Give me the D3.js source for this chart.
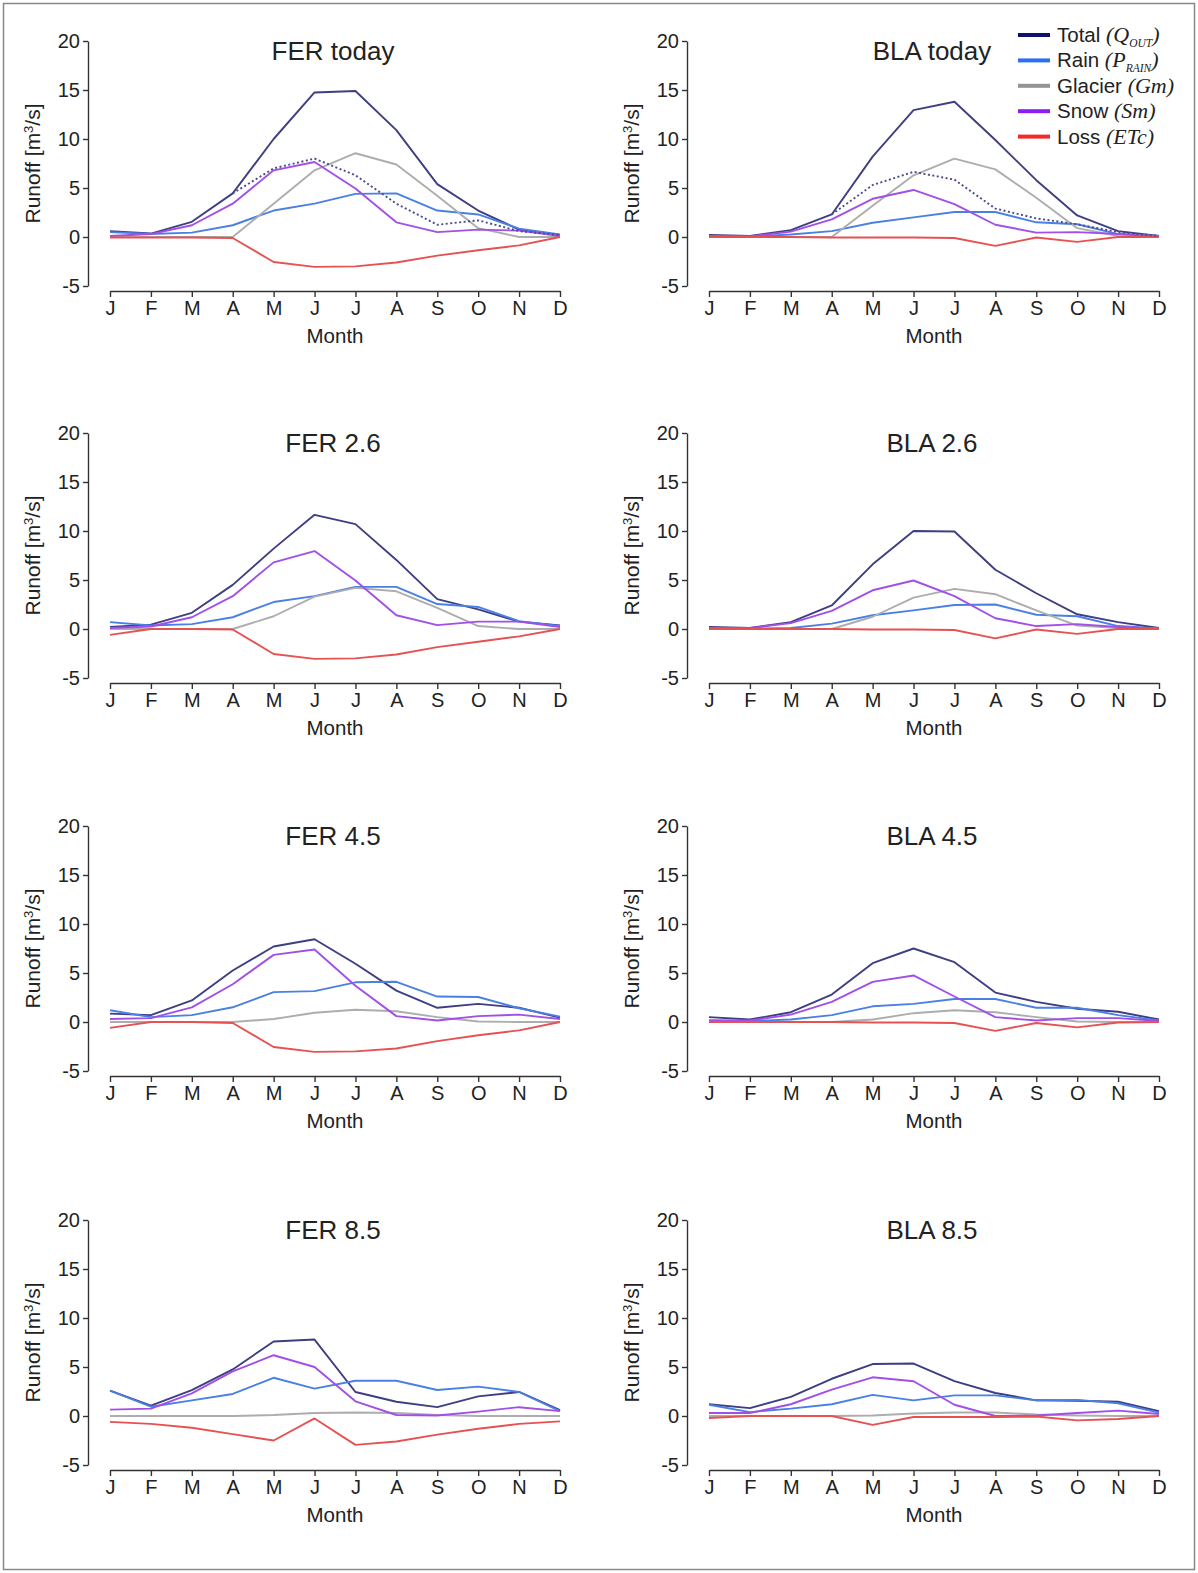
<!DOCTYPE html>
<html>
<head>
<meta charset="utf-8">
<script src="https://cdn.jsdelivr.net/npm/d3@7"></script>
<style>
  html, body { margin: 0; padding: 0; background: #fff; }
  svg { display: block; }
  text { font-family: "Liberation Sans", Arial, Helvetica, sans-serif; fill: #222; }
  .axis path, .axis line { stroke: #333; stroke-width: 1.4; }
  .axis text { font-size: 20px; fill: #222; }
</style>
</head>
<body>
<svg id="chart" width="1198" height="1573"></svg>
<script>
// Months on the x axis
const months = ["J", "F", "M", "A", "M", "J", "J", "A", "S", "O", "N", "D"];
const yTicks = [-5, 0, 5, 10, 15, 20];

// Panel titles, in reading order (left column FER, right column BLA)
const panelTitles = ["FER today", "BLA today", "FER 2.6", "BLA 2.6", "FER 4.5", "BLA 4.5", "FER 8.5", "BLA 8.5"];

// Monthly runoff components [m3/s], one row per panel
const total = [
  [0.6, 0.35, 1.55, 4.45, 10.0, 14.75, 14.9, 10.9, 5.4, 2.7, 0.75, 0.2],
  [0.2, 0.1, 0.7, 2.3, 8.2, 12.95, 13.8, 9.9, 5.8, 2.2, 0.6, 0.1],
  [0.2, 0.45, 1.65, 4.5, 8.2, 11.65, 10.7, 7.05, 3.05, 2.0, 0.75, 0.35],
  [0.2, 0.1, 0.7, 2.4, 6.6, 10.0, 9.95, 6.05, 3.65, 1.5, 0.7, 0.1],
  [0.85, 0.7, 2.2, 5.25, 7.7, 8.45, 5.95, 3.2, 1.45, 1.85, 1.45, 0.45],
  [0.5, 0.25, 1.0, 2.8, 6.0, 7.5, 6.1, 3.0, 2.05, 1.35, 1.05, 0.25],
  [2.6, 1.05, 2.65, 4.75, 7.6, 7.8, 2.45, 1.45, 0.9, 2.0, 2.45, 0.6],
  [1.2, 0.8, 1.95, 3.8, 5.3, 5.35, 3.55, 2.35, 1.6, 1.55, 1.45, 0.5]
];
const rain = [
  [0.5, 0.3, 0.45, 1.2, 2.7, 3.4, 4.4, 4.45, 2.7, 2.3, 0.85, 0.25],
  [0.1, 0.05, 0.25, 0.6, 1.45, 2.0, 2.55, 2.55, 1.5, 1.3, 0.3, 0.1],
  [0.7, 0.35, 0.5, 1.2, 2.75, 3.35, 4.3, 4.3, 2.55, 2.25, 0.8, 0.3],
  [0.1, 0.05, 0.1, 0.55, 1.4, 1.9, 2.45, 2.5, 1.45, 1.3, 0.3, 0.05],
  [1.2, 0.5, 0.7, 1.5, 3.05, 3.15, 4.05, 4.1, 2.6, 2.55, 1.4, 0.55],
  [0.15, 0.1, 0.25, 0.7, 1.6, 1.85, 2.35, 2.35, 1.45, 1.45, 0.7, 0.15],
  [2.6, 0.95, 1.6, 2.25, 3.9, 2.8, 3.6, 3.6, 2.65, 3.0, 2.45, 0.5],
  [1.15, 0.4, 0.75, 1.2, 2.15, 1.6, 2.1, 2.1, 1.6, 1.65, 1.3, 0.35]
];
const glacier = [
  [0, 0, 0, 0, 3.4, 6.8, 8.55, 7.4, 4.2, 0.9, 0, 0],
  [0, 0, 0, 0, 3.2, 6.3, 8.0, 6.9, 4.0, 0.9, 0.1, 0],
  [0, 0, 0, 0, 1.3, 3.3, 4.2, 3.85, 2.15, 0.3, 0, 0],
  [0, 0, 0, 0, 1.25, 3.2, 4.1, 3.55, 1.9, 0.35, 0.1, 0],
  [0, 0, 0, 0, 0.3, 0.95, 1.25, 1.1, 0.5, 0.05, 0, 0],
  [0, 0, 0, 0, 0.25, 0.9, 1.2, 1.0, 0.5, 0.05, 0, 0],
  [0, 0, 0, 0, 0.1, 0.3, 0.35, 0.3, 0.1, 0, 0, 0],
  [0, 0, 0, 0, 0.05, 0.25, 0.35, 0.35, 0.15, 0.05, 0, 0]
];
const snow = [
  [0.1, 0.3, 1.2, 3.4, 6.8, 7.65, 4.95, 1.5, 0.5, 0.75, 0.65, 0.1],
  [0.05, 0.05, 0.55, 1.8, 3.9, 4.8, 3.35, 1.25, 0.45, 0.5, 0.3, 0.05],
  [0.1, 0.25, 1.2, 3.35, 6.8, 7.95, 4.95, 1.4, 0.4, 0.75, 0.75, 0.2],
  [0.05, 0.1, 0.6, 1.85, 3.95, 4.95, 3.35, 1.1, 0.3, 0.5, 0.2, 0.05],
  [0.3, 0.4, 1.5, 3.85, 6.85, 7.4, 3.7, 0.6, 0.15, 0.6, 0.75, 0.3],
  [0.15, 0.15, 0.75, 2.05, 4.1, 4.75, 2.6, 0.5, 0.15, 0.4, 0.4, 0.1],
  [0.65, 0.75, 2.3, 4.55, 6.2, 5.0, 1.5, 0.1, 0.05, 0.45, 0.9, 0.5],
  [0.3, 0.3, 1.2, 2.7, 3.95, 3.55, 1.15, 0.0, 0.05, 0.3, 0.55, 0.2]
];
const loss = [
  [-0.05, -0.05, -0.05, -0.1, -2.55, -3.05, -3.0, -2.6, -1.9, -1.35, -0.85, 0],
  [0, 0, 0, -0.05, -0.05, -0.05, -0.1, -0.9, -0.05, -0.5, 0, 0],
  [-0.6, 0, 0, -0.05, -2.55, -3.05, -3.0, -2.6, -1.85, -1.3, -0.75, 0],
  [0, 0, 0, 0, -0.05, -0.05, -0.1, -0.95, -0.05, -0.5, 0, 0],
  [-0.6, 0, 0, -0.1, -2.55, -3.05, -3.0, -2.7, -1.95, -1.35, -0.85, 0],
  [0, 0, 0, 0, -0.05, -0.05, -0.1, -0.9, -0.1, -0.55, -0.05, 0],
  [-0.6, -0.8, -1.2, -1.85, -2.5, -0.25, -2.95, -2.6, -1.9, -1.3, -0.8, -0.55],
  [-0.2, 0, 0, 0, -0.9, -0.1, -0.1, -0.1, -0.05, -0.45, -0.3, 0]
];
// Total runoff without the glacier contribution (dotted), present-day panels only
const totalNoGlacier = [
  [null, null, null, 4.45, 7.0, 8.0, 6.3, 3.4, 1.25, 1.7, 0.6, 0.2],
  [null, null, null, 2.3, 5.3, 6.65, 5.85, 2.9, 1.9, 1.3, 0.5, 0.1],
  null, null, null, null, null, null
];

// Series styling: plotted lines are softer than the legend keys
const series = [
  { key: "total",   data: total,   line: "#3e3e82", swatch: "#10106e" },
  { key: "rain",    data: rain,    line: "#4a80e4", swatch: "#2a6ff2" },
  { key: "glacier", data: glacier, line: "#adadad", swatch: "#949494" },
  { key: "snow",    data: snow,    line: "#a24fe8", swatch: "#8a1ff0" },
  { key: "loss",    data: loss,    line: "#e65252", swatch: "#f42a2a" }
];

const svg = d3.select("#chart");

// Outer frame
svg.append("rect")
  .attr("x", 3.5).attr("y", 3.5)
  .attr("width", 1191).attr("height", 1566)
  .attr("fill", "none").attr("stroke", "#888").attr("stroke-width", 1.5);

// Grid layout of the panels
const colStart = [110, 709];
const plotWidth = 450;
const rowTop = [41, 433, 826, 1220];
const plotHeight = 245;

panelTitles.forEach((title, p) => {
  const col = p % 2, row = Math.floor(p / 2);
  const x0 = colStart[col], y0 = rowTop[row];

  const x = d3.scaleLinear().domain([0, 11]).range([x0, x0 + plotWidth]);
  const y = d3.scaleLinear().domain([-5, 20]).range([y0 + plotHeight, y0]);

  const g = svg.append("g");

  // y axis, set off to the left of the first month
  g.append("g")
    .attr("class", "axis")
    .attr("transform", `translate(${x0 - 22},0)`)
    .call(d3.axisLeft(y).tickValues(yTicks).tickSize(5).tickSizeOuter(0).tickPadding(3).tickFormat(d => String(d)));

  // x axis, set off below the -5 tick
  g.append("g")
    .attr("class", "axis")
    .attr("transform", `translate(0,${y(-5) + 5})`)
    .call(d3.axisBottom(x).tickValues(d3.range(12)).tickSize(6).tickSizeOuter(0).tickPadding(4).tickFormat(i => months[i]));

  // Panel title
  g.append("text")
    .attr("x", x0 + plotWidth / 2 - 2)
    .attr("y", y0 + 19)
    .attr("text-anchor", "middle")
    .style("font-size", "26px")
    .text(title);

  // Axis titles
  g.append("text")
    .attr("x", x0 + plotWidth / 2)
    .attr("y", y(-5) + 57)
    .attr("text-anchor", "middle")
    .style("font-size", "20.5px")
    .text("Month");

  const yl = g.append("text")
    .attr("transform", `translate(${x0 - 70},${y(7.5)}) rotate(-90)`)
    .attr("text-anchor", "middle")
    .style("font-size", "21px");
  yl.append("tspan").text("Runoff [m");
  yl.append("tspan").attr("dy", -7).style("font-size", "13px").text("3");
  yl.append("tspan").attr("dy", 7).text("/s]");

  const line = d3.line()
    .defined(d => d != null)
    .x((d, i) => x(i))
    .y(d => y(d));

  series.forEach(s => {
    g.append("path")
      .datum(s.data[p])
      .attr("fill", "none")
      .attr("stroke", s.line)
      .attr("stroke-width", 1.9)
      .attr("stroke-linejoin", "round")
      .attr("d", line);
  });

  if (totalNoGlacier[p]) {
    g.append("path")
      .datum(totalNoGlacier[p])
      .attr("fill", "none")
      .attr("stroke", "#4a4a8c")
      .attr("stroke-width", 1.9)
      .attr("stroke-dasharray", "2,2.5")
      .attr("d", line);
  }
});

// Legend (top right)
const legendItems = [
  { name: "Total ", sym: "Q", sub: "OUT" },
  { name: "Rain ", sym: "P", sub: "RAIN" },
  { name: "Glacier ", sym: "Gm", sub: null },
  { name: "Snow ", sym: "Sm", sub: null },
  { name: "Loss ", sym: "ETc", sub: null }
];
const serif = "'Liberation Serif', 'Times New Roman', serif";
const legend = svg.append("g").attr("transform", "translate(1018,35)");
legendItems.forEach((item, i) => {
  const gy = i * 25.4;
  legend.append("line")
    .attr("x1", 0).attr("x2", 32).attr("y1", gy).attr("y2", gy)
    .attr("stroke", series[i].swatch).attr("stroke-width", 4);
  const t = legend.append("text")
    .attr("x", 39).attr("y", gy + 7)
    .style("font-size", "20.5px");
  t.append("tspan").text(item.name);
  t.append("tspan")
    .style("font-family", serif)
    .style("font-style", "italic")
    .style("font-size", "22px")
    .text("(" + item.sym);
  if (item.sub) {
    t.append("tspan")
      .attr("dy", 5)
      .style("font-family", serif)
      .style("font-style", "italic")
      .style("font-size", "11.5px")
      .text(item.sub);
    t.append("tspan")
      .attr("dy", -5)
      .style("font-family", serif)
      .style("font-style", "italic")
      .style("font-size", "22px")
      .text(")");
  } else {
    t.append("tspan")
      .style("font-family", serif)
      .style("font-style", "italic")
      .style("font-size", "22px")
      .text(")");
  }
});
</script>
</body>
</html>
